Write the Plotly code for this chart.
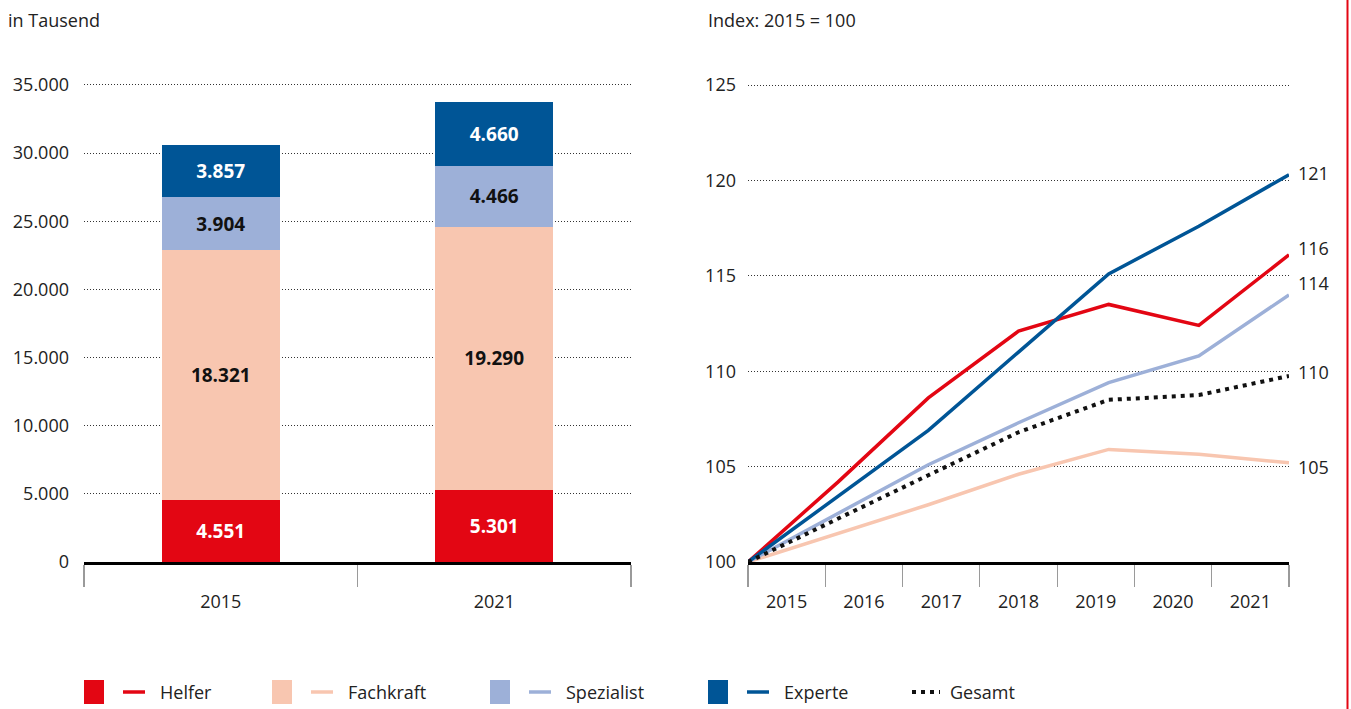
import plotly.graph_objects as go

# ---------------- data ----------------
bar_years = ["2015", "2021"]
helfer_abs = [4551, 5301]
fachkraft_abs = [18321, 19290]
spezialist_abs = [3904, 4466]
experte_abs = [3857, 4660]

idx_years = [2015, 2016, 2017, 2018, 2019, 2020, 2021]
idx_year_labels = ["2015", "2016", "2017", "2018", "2019", "2020", "2021"]
helfer_idx = [100, 104.2, 108.6, 112.1, 113.5, 112.4, 116.1]
fachkraft_idx = [100, 101.5, 103.0, 104.6, 105.9, 105.65, 105.2]
spezialist_idx = [100, 102.55, 105.1, 107.3, 109.4, 110.8, 114.0]
experte_idx = [100, 103.45, 106.9, 111.0, 115.1, 117.6, 120.3]
gesamt_idx = [100, 102.3, 104.55, 106.8, 108.5, 108.75, 109.75]

end_labels = {"Helfer": "116", "Fachkraft": "105", "Spezialist": "114",
              "Experte": "121", "Gesamt": "110"}

names = ["Helfer", "Fachkraft", "Spezialist", "Experte"]
colors = {"Helfer": "#E30613", "Fachkraft": "#F8C6B0",
          "Spezialist": "#9DB0D8", "Experte": "#005596", "Gesamt": "#111111"}
text_colors = {"Helfer": "white", "Fachkraft": "#111111",
               "Spezialist": "#111111", "Experte": "white"}

# ---------------- layout helpers ----------------
W, H = 1351, 709
px = lambda v: v / W
py = lambda v: 1 - v / H
FONT = "Open Sans"
TXT = "#222222"
DOTS = "4px,5px"

fig = go.Figure()

# stacked bars
abs_data = {"Helfer": helfer_abs, "Fachkraft": fachkraft_abs,
            "Spezialist": spezialist_abs, "Experte": experte_abs}
for n in names:
    fig.add_trace(go.Bar(
        x=bar_years, y=abs_data[n], name=n, marker=dict(color=colors[n], line=dict(width=0)),
        width=0.43, texttemplate="%{y:,.0f}", textposition="inside",
        insidetextanchor="middle", constraintext="none",
        textfont=dict(color=text_colors[n], size=19, family=FONT, weight="bold"),
        xaxis="x", yaxis="y", showlegend=False, hoverinfo="skip"))

# index lines
idx_data = {"Fachkraft": fachkraft_idx, "Spezialist": spezialist_idx,
            "Helfer": helfer_idx, "Experte": experte_idx}
for n in ["Fachkraft", "Spezialist", "Helfer", "Experte"]:
    fig.add_trace(go.Scatter(
        x=idx_years, y=idx_data[n], mode="lines", line=dict(color=colors[n], width=3.5),
        xaxis="x2", yaxis="y2", showlegend=False, cliponaxis=False, hoverinfo="skip"))
fig.add_trace(go.Scatter(
    x=idx_years, y=gesamt_idx, mode="lines", line=dict(color=colors["Gesamt"], width=4, dash=DOTS),
    xaxis="x2", yaxis="y2", showlegend=False, cliponaxis=False, hoverinfo="skip"))

# invisible category trace carrying the year labels of the right chart
fig.add_trace(go.Scatter(
    x=idx_year_labels, y=[100] * len(idx_year_labels), mode="markers",
    marker=dict(opacity=0), xaxis="x3", yaxis="y2", showlegend=False, hoverinfo="skip"))

# axis pixel geometry (reference)
Y0, YTOP = 562, 85
LEFT_MAX, LEFT_EXTRA = 35000, 100
RIGHT_MIN, RIGHT_MAX, RIGHT_EXTRA = 100, 125, 0.08
ydom_left = [py(Y0), py(YTOP - LEFT_EXTRA * (Y0 - YTOP) / LEFT_MAX)]
ydom_right = [py(Y0), py(YTOP - RIGHT_EXTRA * (Y0 - YTOP) / (RIGHT_MAX - RIGHT_MIN))]

grid = dict(showgrid=True, gridcolor="#333333", griddash="1px,2px", gridwidth=1,
            zeroline=False, ticks="", showline=False, fixedrange=True,
            tickfont=dict(size=18, family=FONT, color=TXT), automargin=False)
xcat = dict(type="category", tickson="boundaries", ticks="outside",
            ticklen=22, tickcolor="#9a9a9a", tickwidth=1.2,
            showline=True, linecolor="black", linewidth=3, showgrid=False,
            tickfont=dict(size=18, family=FONT, color=TXT),
            ticklabelstandoff=21, fixedrange=True, automargin=False)

fig.update_layout(
    width=W, height=H, margin=dict(l=0, r=0, t=0, b=0),
    paper_bgcolor="white", plot_bgcolor="white",
    separators=",.", barmode="stack", hovermode=False,
    font=dict(family=FONT, size=18, color=TXT),
    xaxis=dict(domain=[px(84), px(631)], anchor="y", range=[-0.5, 1.5], **xcat),
    yaxis=dict(domain=ydom_left, anchor="x", range=[0, LEFT_MAX + LEFT_EXTRA],
               tickvals=list(range(0, LEFT_MAX + 1, 5000)),
               tickformat=",.0f", ticklabelstandoff=14, **grid),
    xaxis2=dict(domain=[px(748), px(1289)], anchor="y2", range=[2015, 2021],
                visible=False, fixedrange=True),
    xaxis3=dict(overlaying="x2", anchor="y2", categoryorder="array",
                categoryarray=idx_year_labels, range=[-0.5, 6.5], **xcat),
    yaxis2=dict(domain=ydom_right, anchor="x2", range=[RIGHT_MIN, RIGHT_MAX + RIGHT_EXTRA],
                tickvals=[100, 105, 110, 115, 120, 125], ticklabelstandoff=11, **grid),
)

annotations = [
    dict(text="in Tausend", x=px(6), y=py(20), xref="paper", yref="paper",
         xanchor="left", yanchor="middle", showarrow=False, font=dict(size=18, family=FONT, color=TXT)),
    dict(text="Index: 2015 = 100", x=px(706), y=py(20), xref="paper", yref="paper",
         xanchor="left", yanchor="middle", showarrow=False, font=dict(size=18, family=FONT, color=TXT)),
]
# end labels on the index chart
end_vals = {"Helfer": helfer_idx[-1], "Fachkraft": fachkraft_idx[-1],
            "Spezialist": spezialist_idx[-1], "Experte": experte_idx[-1], "Gesamt": gesamt_idx[-1]}
end_shift = {"Helfer": 7, "Fachkraft": -4, "Spezialist": 12, "Experte": 2, "Gesamt": 4}
for n, lab in end_labels.items():
    annotations.append(dict(text=lab, x=idx_years[-1], y=end_vals[n], xref="x2", yref="y2",
                            xanchor="left", yanchor="middle", xshift=7, yshift=end_shift[n],
                            showarrow=False, font=dict(size=18, family=FONT, color=TXT)))

# manual legend
shapes = []
leg_y = 692
leg_x = {"Helfer": 84, "Fachkraft": 272, "Spezialist": 490, "Experte": 708}
for n in names:
    x0 = leg_x[n]
    shapes.append(dict(type="rect", xref="paper", yref="paper", x0=px(x0), x1=px(x0 + 20),
                       y0=py(leg_y + 12), y1=py(leg_y - 12), fillcolor=colors[n], line=dict(width=0)))
    shapes.append(dict(type="line", xref="paper", yref="paper", x0=px(x0 + 39), x1=px(x0 + 61),
                       y0=py(leg_y), y1=py(leg_y), line=dict(color=colors[n], width=3.5)))
    annotations.append(dict(text=n, x=px(x0 + 74), y=py(leg_y), xref="paper", yref="paper",
                            xanchor="left", yanchor="middle", showarrow=False,
                            font=dict(size=18, family=FONT, color=TXT)))
shapes.append(dict(type="line", xref="paper", yref="paper", x0=px(912), x1=px(940),
                   y0=py(leg_y), y1=py(leg_y), line=dict(color=colors["Gesamt"], width=4, dash=DOTS)))
annotations.append(dict(text="Gesamt", x=px(948), y=py(leg_y), xref="paper", yref="paper",
                        xanchor="left", yanchor="middle", showarrow=False,
                        font=dict(size=18, family=FONT, color=TXT)))
# red vertical rule at right edge
shapes.append(dict(type="line", xref="paper", yref="paper", x0=px(1347.5), x1=px(1347.5), y0=0, y1=1,
                   line=dict(color="#E30613", width=2)))

fig.update_layout(annotations=annotations, shapes=shapes)
fig.write_html("out.html", config={"displayModeBar": False, "staticPlot": True},
               post_script="document.body.style.margin='0';document.body.style.overflow='hidden';")
